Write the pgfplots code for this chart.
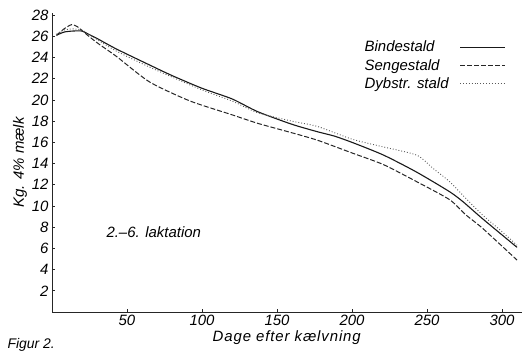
\documentclass[border=0pt]{standalone}
\usepackage{fontspec}
\setmainfont{Liberation Sans}
\usepackage{pgfplots}
\pgfplotsset{compat=1.18}
\newcommand{\lab}{\fontsize{15}{18}\selectfont\itshape}
\begin{document}
\begin{tikzpicture}
\begin{axis}[
  at={(0,0)}, anchor=south west,
  scale only axis, width=469.5bp, height=299bp,
  xmin=0, xmax=313, ymin=0, ymax=28.2,
  axis x line=bottom, axis y line=left,
  axis line style={-, line width=0.9bp, black!85},
  xtick={50,100,...,300}, ytick={2,4,...,28},
  tick style={black!85, line width=0.6bp}, major tick length=3bp,
  tick align=inside,
  /pgf/number format/assume math mode=true,
  ticklabel style={font=\lab},
  xlabel={Dage efter kælvning}, xlabel style={font=\lab\addfontfeatures{LetterSpace=6}, yshift=2bp},
  ylabel={Kg. 4\% mælk}, ylabel style={font=\lab, yshift=-2bp},
  legend style={at={(0.655,0.92)}, anchor=north west, draw=none, fill=none,
    font=\lab, row sep=2bp, legend cell align=left},
  legend plot pos=right,
  legend image code/.code={\path (0bp,0bp) (54bp,0bp); \draw[#1] (9bp,0bp) -- (54bp,0bp);},
]
\addplot[black!90, line width=1.1bp, smooth, tension=0.4] coordinates {
(3,26.1) (8,26.4) (14,26.5) (20,26.5) (23,26.3) (30,25.8) (43,24.8) (65,23.3)
(80,22.3) (100,21.1) (120,20.1) (137,18.9) (160,17.7) (177,17.0) (188,16.6)
(200,16.0) (221,14.8) (243,13.2) (265,11.35) (274,10.4) (287,8.8) (310,6.1)};
\addlegendentry{Bindestald}
\addplot[black!85, line width=1.0bp, dash pattern=on 5bp off 2bp, smooth, tension=0.4] coordinates {
(3,26.1) (8,26.7) (13,27.1) (17,26.9) (22,26.3) (30,25.4) (43,24.1) (65,21.7)
(92,19.9) (120,18.6) (137,17.8) (160,16.9) (177,16.2) (200,15.0) (221,13.9)
(243,12.3) (265,10.6) (276,9.15) (287,7.9) (310,4.9)};
\addlegendentry{Sengestald}
\addplot[black!65, line width=0.9bp, dotted, smooth, tension=0.4] coordinates {
(3,26.2) (8,26.6) (14,26.7) (20,26.6) (23,26.3) (30,25.7) (43,24.6) (65,23.1)
(99,21.0) (120,19.9) (137,18.8) (160,18.0) (177,17.5) (200,16.3) (220,15.6)
(243,14.8) (254,13.55) (265,12.3) (276,10.7) (287,9.15) (299,7.7) (310,6.3)};
\addlegendentry{Dybstr. stald}
\node[anchor=west, font=\lab] at (axis cs:34,7.5) {2.–6. laktation};
\end{axis}
\node[anchor=west, font=\fontsize{14}{16}\selectfont\itshape] at (-48bp,-33bp) {Figur 2.};
\pgfresetboundingbox
\path[use as bounding box] (-52bp,-41bp) rectangle (470bp,312bp);
\end{tikzpicture}
\end{document}
